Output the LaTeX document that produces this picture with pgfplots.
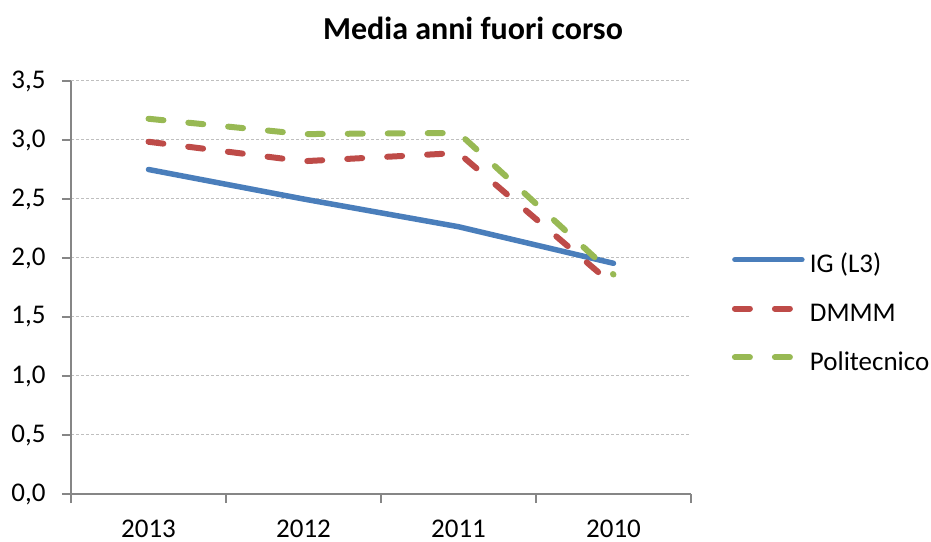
\documentclass[border=0pt]{standalone}
\usepackage{fontspec}
\setmainfont{Carlito}
\usepackage{pgfplots}
\pgfplotsset{compat=1.18}
\definecolor{igblue}{HTML}{4A7EBB}
\definecolor{dred}{HTML}{BE4B48}
\definecolor{pgreen}{HTML}{98B954}
\definecolor{axgray}{HTML}{868686}
\definecolor{gridgray}{HTML}{BFBFBF}
\begin{document}
\begin{tikzpicture}
\useasboundingbox (0,0) rectangle (465.5bp,271bp);
\node[font=\fontsize{16bp}{19bp}\selectfont\bfseries] at (236.5bp,257bp) {Media anni fuori corso};
\begin{axis}[
  at={(35.5bp,24bp)}, anchor=south west,
  scale only axis, width=310bp, height=206.5bp,
  xmin=-0.5, xmax=3.5, ymin=0, ymax=3.5,
  axis lines*=left,
  axis line style={axgray, line width=0.75bp},
  xtick={0,1,2,3}, xticklabels={2013,2012,2011,2010},
  major x tick style={draw=none},
  minor xtick={-0.5,0.5,1.5,2.5,3.5},
  minor x tick style={axgray, line width=0.75bp},
  ytick={0,0.5,...,3.5},
  y tick style={axgray, line width=0.75bp},
  tick align=outside,
  major tick length=4.5bp, minor tick length=4.5bp,
  ymajorgrids,
  major y grid style={gridgray, line width=0.5bp, dash pattern=on 1.5bp off 1bp},
  tick label style={font=\fontsize{13.5bp}{16bp}\selectfont},
  /pgf/number format/fixed,
  /pgf/number format/fixed zerofill,
  /pgf/number format/precision=1,
  /pgf/number format/use comma,
  /pgf/number format/assume math mode=true,
  yticklabel style={anchor=east, inner sep=0pt, xshift=-8bp},
  xticklabel style={anchor=north, inner sep=0pt, yshift=-8.5bp},
  legend style={at={(1.066,0.582)}, anchor=north west, draw=none, fill=none,
    inner sep=0pt, outer sep=0pt, row sep=11.9bp,
    font=\fontsize{13.5bp}{16bp}\selectfont,
    nodes={inner sep=0pt, text height=9.5bp, text depth=3bp}},
  legend cell align=left,
  legend image code/.code={\draw[#1] (0bp,3.2bp) -- (33.5bp,3.2bp);},
]
\addplot[igblue, line width=2.75bp, line cap=round] coordinates {(0,2.75) (1,2.50) (2,2.265) (3,1.955)};
\addlegendentry{\hspace{2.5bp}IG (L3)}
\addplot[dred, line width=3bp, line cap=round, dash pattern=on 7.5bp off 12.5bp] coordinates {(0,2.985) (1,2.82) (2,2.89) (3,1.77)};
\addlegendentry{\hspace{2.5bp}DMMM}
\addplot[pgreen, line width=3bp, line cap=round, dash pattern=on 7.5bp off 12.5bp] coordinates {(0,3.18) (1,3.05) (2,3.06) (3,1.86)};
\addlegendentry{\hspace{2.5bp}Politecnico}
\end{axis}
\end{tikzpicture}
\end{document}
